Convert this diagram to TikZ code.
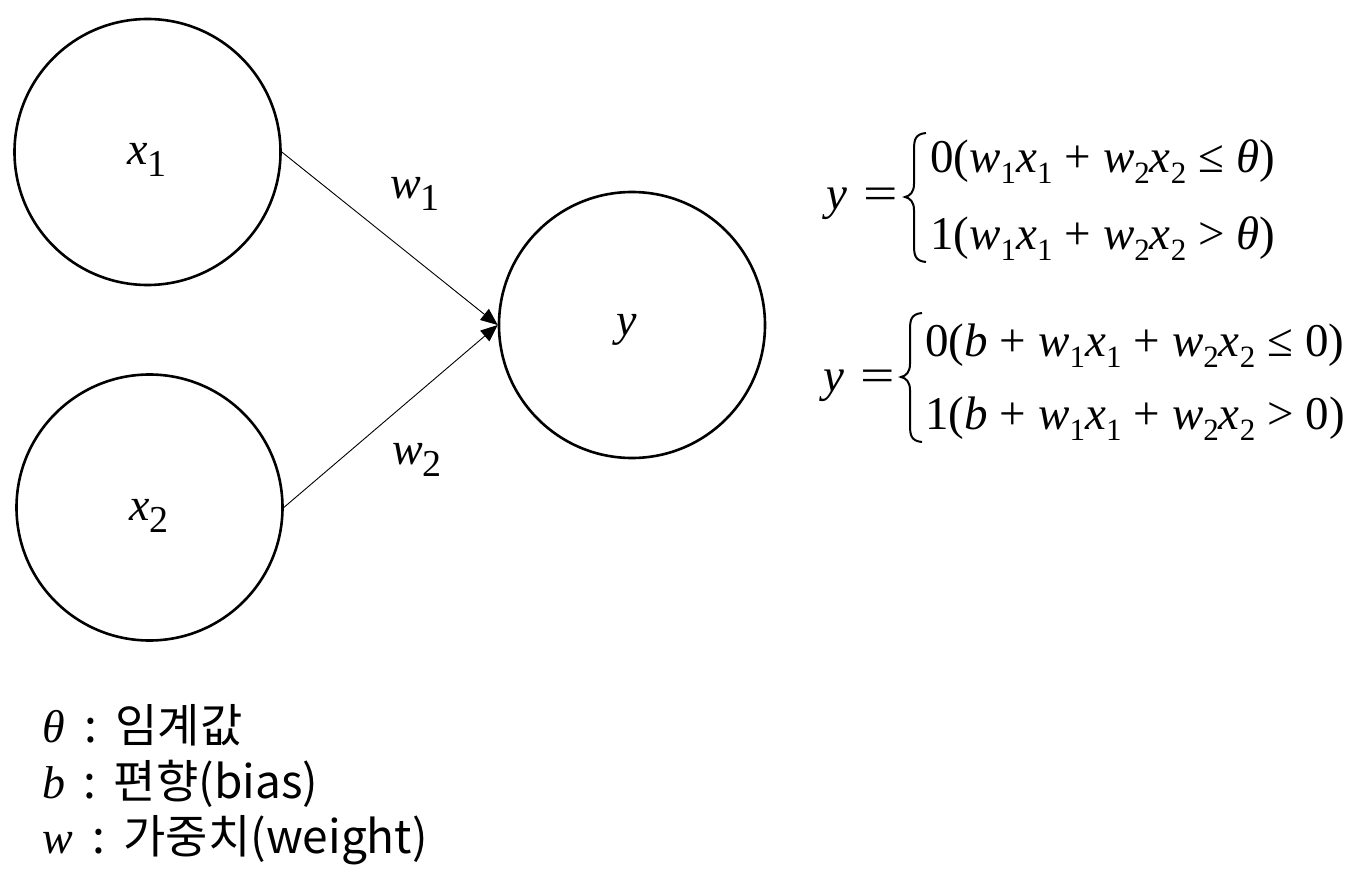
\documentclass[tikz,border=0pt]{standalone}
\usepackage{fontspec}
\setmainfont{Liberation Serif}
\newfontfamily\serifont{Liberation Serif}
\newfontfamily\krfont{Noto Sans CJK KR}
\usetikzlibrary{arrows.meta}
\newcommand\vi[1]{\textit{#1}}
\newcommand\sbA[1]{\raisebox{-12pt}{\fontsize{38}{38}\selectfont #1}}
\newcommand\sbB[1]{\raisebox{-11pt}{\fontsize{31}{31}\selectfont #1}}
\newcommand\op[1]{\hspace{12pt}#1\hspace{12pt}}
\begin{document}
\begin{tikzpicture}[x=1pt,y=-1pt,
 neuron/.style={circle,draw,line width=2.6pt,minimum size=266pt,inner sep=0pt},
 conn/.style={line width=0.9pt,-{Triangle[length=17pt,width=14pt]}},
 lbl/.style={font=\fontsize{46}{46}\serifont,inner sep=0pt},
 eq/.style={font=\fontsize{47}{47}\serifont,inner sep=0pt,anchor=base west},
 bracestyle/.style={line width=2pt},
 leg/.style={font=\fontsize{46}{46}\serifont,inner sep=0pt,anchor=base west}]
\useasboundingbox (0,0) rectangle (1353,880);
% neurons
\node[neuron] (x1) at (147.5,152) {};
\node[neuron] (x2) at (149.5,507.5) {};
\node[neuron] (y) at (632,325) {};
\node[lbl] (x1l) at (147,160) {\vi{x}\sbA{1}};
\node[lbl] (x2l) at (149,516) {\vi{x}\sbA{2}};
\node[lbl] (yl) at (627,330) {\vi{y}};
% connectors
\draw[conn] (x1.east) -- (y.west);
\draw[conn] (x2.east) -- (y.west);
\node[lbl] (w1) at (415,194) {\vi{w}\sbA{1}};
\node[lbl] (w2) at (417,460) {\vi{w}\sbA{2}};
% equation 1
\node[eq] (e1y) at (826,209) {\vi{y}\hspace{16pt}\scalebox{1.3}[1]{=}};
\draw[bracestyle] (926,133) .. controls (915,134) and (914,140) .. (914,150) -- (914,184) .. controls (914,192) and (910,196) .. (905,197) .. controls (910,198) and (914,202) .. (914,210) -- (914,245) .. controls (914,255) and (915,261) .. (926,262);
\node[eq] (e1a) at (930,173) {0(\vi{w}\sbB{1}\vi{x}\sbB{1}\op{+}\vi{w}\sbB{2}\vi{x}\sbB{2}\op{≤}\vi{θ})};
\node[eq] (e1b) at (930,249) {1(\vi{w}\sbB{1}\vi{x}\sbB{1}\op{+}\vi{w}\sbB{2}\vi{x}\sbB{2}\op{>}\vi{θ})};
% equation 2
\node[eq] (e2y) at (823,391) {\vi{y}\hspace{16pt}\scalebox{1.3}[1]{=}};
\draw[bracestyle] (922,313) .. controls (911,314) and (910,320) .. (910,330) -- (910,364) .. controls (910,372) and (906,376) .. (901,377) .. controls (906,378) and (910,382) .. (910,390) -- (910,425) .. controls (910,435) and (911,441) .. (922,442);
\node[eq] (e2a) at (925,356) {0(\vi{b}\op{+}\vi{w}\sbB{1}\vi{x}\sbB{1}\op{+}\vi{w}\sbB{2}\vi{x}\sbB{2}\op{≤}0)};
\node[eq] (e2b) at (925,429) {1(\vi{b}\op{+}\vi{w}\sbB{1}\vi{x}\sbB{1}\op{+}\vi{w}\sbB{2}\vi{x}\sbB{2}\op{>}0)};
% legend
\node[leg] (l1) at (42,742) {\vi{θ}\hspace{20pt}{\krfont :\hspace{18pt}임계값}};
\node[leg] (l2) at (42,798) {\vi{b}\hspace{18pt}{\krfont :\hspace{18pt}편향(bias)}};
\node[leg] (l3) at (42,853) {\vi{w}\hspace{20pt}{\krfont :\hspace{18pt}가중치(weight)}};
\end{tikzpicture}
\end{document}
